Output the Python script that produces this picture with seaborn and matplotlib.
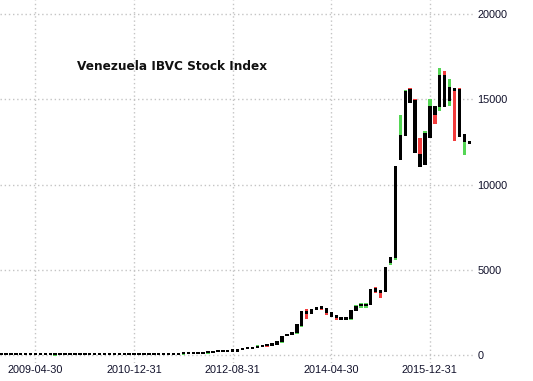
import numpy as np
import matplotlib
matplotlib.use("Agg")
import matplotlib.pyplot as plt
import seaborn as sns

# ---- data (monthly bars, 2008-09 .. 2016-08), index points ----
months = list(range(96))
tick_pos = [7, 27, 47, 67, 87]
tick_labels = ["2009-04-30", "2010-12-31", "2012-08-31", "2014-04-30", "2015-12-31"]
y_ticks = [0, 5000, 10000, 15000, 20000]

body_bottom = [20, 20, 20, 20, 20, 20, 20, 20, 20, 20, 20,
               40, 40, 40, 40, 40, 40, 40, 40, 40, 40, 40, 40, 40, 40, 40, 40, 40, 40, 40, 40, 40, 40, 40, 40, 40, 40,
               85, 85, 85, 85, 85,
               140, 117, 160, 160, 165, 195, 200, 295, 350, 365, 410, 450, 500, 545, 615,
               762, 1097, 1185, 1308, 1700, 2405, 2387, 2651, 2669, 2481, 2258, 2141, 2053, 2053,
               2094, 2592, 2845, 2845, 2932, 3695, 3619, 3677, 5413, 5671,
               11437, 12862, 14797, 11865, 11044, 11143, 12745, 14076, 14563, 14563, 14915, 15484,
               12803, 12510, 12357]
body_top = [40, 40, 40, 40, 40, 40, 40, 40, 40, 40, 40,
            70, 70, 70, 70, 70, 70, 70, 70, 70, 70, 70, 70, 70, 70, 70, 70, 70, 70, 70, 70, 70, 70, 70, 70, 70, 70,
            115, 115, 115, 115, 115,
            180, 235, 275, 275, 275, 335, 335, 395, 450, 485, 545, 585, 630, 700, 850,
            1114, 1214, 1349, 1800, 2580, 2580, 2698, 2798, 2856, 2757, 2522, 2346, 2211, 2211,
            2639, 2886, 3009, 3009, 3871, 3912, 3812, 5161, 5765, 11085,
            12903, 15484, 15583, 14956, 11789, 13003, 14621, 14621, 16422, 16422, 15736, 15660,
            15601, 12962, 12569]
low = [20, 20, 20, 20, 20, 20, 20, 20, 20, 20, 20,
       30, 40, 40, 40, 40, 40, 40, 40, 40, 40, 40, 40, 40, 40, 40, 40, 40, 40, 40, 40, 40, 40, 40, 40, 40, 40,
       75, 85, 85, 85, 85,
       130, 117, 160, 160, 165, 195, 200, 295, 350, 365, 400, 450, 480, 530, 615,
       704, 1097, 1185, 1261, 1671, 2140, 2387, 2651, 2640, 2317, 2258, 2082, 2035, 2035,
       2053, 2592, 2786, 2786, 2932, 3619, 3372, 3677, 5261, 5554,
       11437, 12862, 14797, 11865, 11044, 11143, 12745, 13548, 14328, 14563, 14621, 12551,
       12803, 11730, 12357]
high = [40, 40, 40, 40, 40, 40, 40, 40, 40, 40, 40,
        80, 70, 70, 70, 70, 70, 70, 70, 70, 70, 70, 70, 70, 70, 70, 70, 70, 70, 70, 70, 70, 70, 70, 70, 70, 70,
        125, 115, 115, 115, 115,
        190, 235, 275, 275, 275, 335, 335, 395, 450, 485, 555, 585, 640, 710, 850,
        1114, 1214, 1349, 1800, 2580, 2727, 2698, 2798, 2874, 2757, 2522, 2346, 2240, 2240,
        2639, 2932, 3050, 3050, 3871, 3988, 3812, 5161, 5765, 11085,
        14076, 15542, 15660, 15014, 12710, 13138, 15014, 14621, 16815, 16657, 16188, 15660,
        15660, 12962, 12569]
tone = ["", "", "", "", "", "", "", "", "", "", "",
        "g", "", "", "", "", "", "", "", "", "", "", "", "", "", "", "", "", "", "", "", "", "", "", "", "", "",
        "g", "", "", "", "",
        "g", "", "", "", "", "", "", "", "", "", "g", "", "r", "g", "",
        "g", "", "", "g", "g", "r", "", "", "r", "r", "", "r", "r", "g",
        "g", "g", "g", "g", "", "r", "r", "", "g", "g",
        "g", "g", "r", "r", "r", "g", "g", "r", "g", "r", "g", "r",
        "r", "g", "g"]

# ---- figure ----
sns.set_style("white")
plt.rcParams["font.family"] = ["Liberation Sans", "DejaVu Sans"]

W, H = 533, 381
fig = plt.figure(figsize=(W / 100, H / 100), dpi=100)
ax_h_px = 363
ax = fig.add_axes([0, 1 - ax_h_px / H, 473 / W, ax_h_px / H])

ylo, yhi = -469, 20821
ax.set_ylim(ylo, yhi)
ax.set_xlim(-0.2, 95.74)
upp = (yhi - ylo) / ax_h_px  # value units per pixel
minh = 2 * upp

x = np.array(months)
bb = np.array(body_bottom, float)
bt = np.array(body_top, float)
lo = np.array(low, float)
hi = np.array(high, float)
tn = np.array(tone)

def fix(b, t, mh):
    h = t - b
    mid = (t + b) / 2
    small = h < mh
    b = np.where(small, mid - mh / 2, b)
    h = np.where(small, mh, h)
    return b, h

rb, rh = fix(lo, hi, minh + 1.0 * upp)
cols = {"g": "#55d655", "r": "#f23c3c"}
for k, c in cols.items():
    m = tn == k
    ax.bar(x[m], rh[m], bottom=rb[m], width=0.7, color=c, linewidth=0, zorder=2)

b2, h2 = fix(bb, bt, minh)
ax.bar(x, h2, bottom=b2, width=0.7, color="black", linewidth=0, zorder=3)

ax.set_xticks(tick_pos)
ax.set_xticklabels(tick_labels)
ax.set_yticks(y_ticks)
ax.set_yticklabels([str(v) for v in y_ticks])
ax.yaxis.tick_right()
ax.tick_params(axis="both", length=0, labelsize=7.8, labelcolor="#10102a")
ax.tick_params(axis="x", pad=1.5)
ax.tick_params(axis="y", pad=3)
ax.grid(True, color="#c4c4c4", linestyle=(0, (1, 2)), linewidth=1)
ax.set_axisbelow(True)
for s in ax.spines.values():
    s.set_visible(False)
ax.patch.set_alpha(0)

fig.text(77 / W, 1 - 67 / H, "Venezuela IBVC Stock Index", fontsize=8.7,
         fontweight="bold", family="DejaVu Sans", va="center", ha="left", color="#111111")

fig.savefig("out.png", dpi=100)
